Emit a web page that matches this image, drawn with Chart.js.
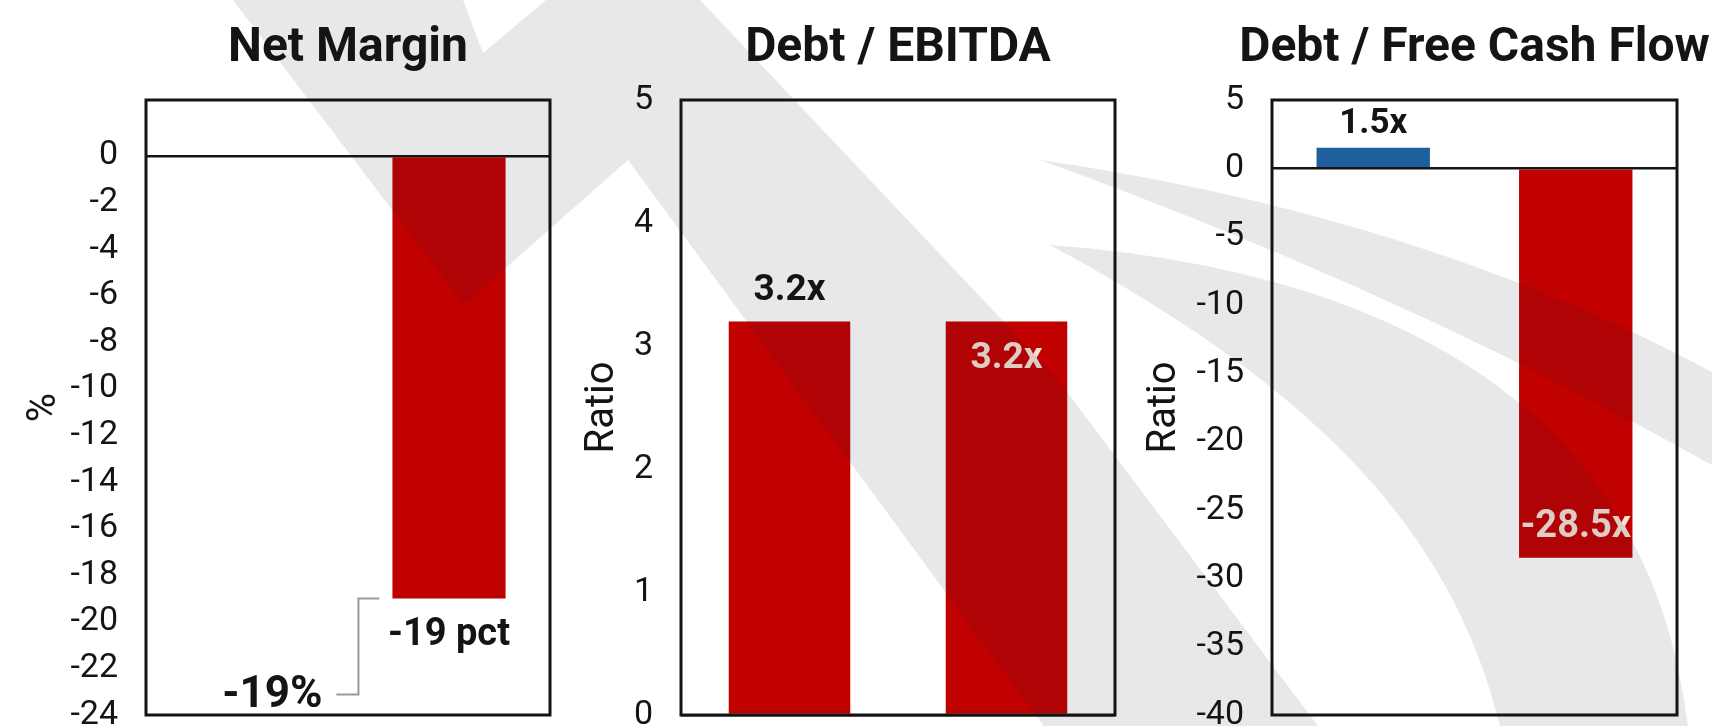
<!DOCTYPE html>
<html>
<head>
<meta charset="utf-8">
<title>Net Margin, Debt / EBITDA, Debt / Free Cash Flow</title>
<script src="https://cdn.jsdelivr.net/npm/chart.js@4.4.1/dist/chart.umd.min.js"></script>
<style>
  html, body { margin: 0; padding: 0; background: #fff; }
  #wrap { position: relative; width: 1712px; height: 726px; overflow: hidden; background: #fff; }
  #wrap canvas { position: absolute; top: 0; }
</style>
</head>
<body>
<div id="wrap">
  <canvas id="marginChart" width="560" height="726" style="left:0px"></canvas>
  <canvas id="ebitdaChart" width="570" height="726" style="left:560px"></canvas>
  <canvas id="fcfChart" width="582" height="726" style="left:1130px"></canvas>
</div>
<script>
// two periods per panel, the first margin bar is not reported
const periods = ['Prior', 'Latest'];

const marginValues = [null, -19];
const marginTicks = [0, -2, -4, -6, -8, -10, -12, -14, -16, -18, -20, -22, -24];

const ebitdaValues = [3.2, 3.2];
const ebitdaTicks = [0, 1, 2, 3, 4, 5];

const fcfValues = [1.5, -28.5];
const fcfTicks = [5, 0, -5, -10, -15, -20, -25, -30, -35, -40];

const INK = '#141414';
const RED = '#c10000';
const BLUE = '#1e5f9e';
const LIGHT = '#f7e1d6';
const FONT = 'Roboto, "Open Sans", sans-serif';

Chart.defaults.font.family = FONT;
Chart.defaults.color = INK;

const fmtX = v => `${v.toFixed(1)}x`;

// grey logo sitting over the whole figure, page coordinates
function traceWatermark(ctx) {
  ctx.beginPath();
  // slanted N
  ctx.moveTo(233, 0);
  ctx.lineTo(464, 305);
  ctx.lineTo(628, 160);
  ctx.lineTo(1044, 726);
  ctx.lineTo(1318, 726);
  ctx.lineTo(1055, 376);
  ctx.lineTo(700, 0);
  ctx.lineTo(546, 0);
  ctx.lineTo(483, 53);
  ctx.lineTo(463, 0);
  ctx.closePath();

  // thin swoosh
  ctx.moveTo(1040, 160);
  ctx.quadraticCurveTo(1420, 215, 1712, 372);
  ctx.lineTo(1712, 465);
  ctx.quadraticCurveTo(1400, 290, 1040, 160);
  ctx.closePath();

  // wide swoosh
  ctx.moveTo(1050, 245);
  ctx.bezierCurveTo(1380, 270, 1650, 400, 1688, 726);
  ctx.lineTo(1500, 726);
  ctx.bezierCurveTo(1450, 520, 1300, 380, 1050, 245);
  ctx.closePath();
}

const watermark = {
  id: 'watermark',
  afterDraw(chart) {
    const ctx = chart.ctx;
    ctx.save();
    ctx.translate(-chart.canvas.offsetLeft, 0);
    traceWatermark(ctx);
    ctx.fillStyle = 'rgba(20, 30, 45, 0.1)';
    ctx.fill();
    ctx.restore();
  }
};

const panelFrame = {
  id: 'panelFrame',
  afterDatasetsDraw(chart, args, opts) {
    const {ctx, chartArea: a} = chart;
    ctx.save();
    ctx.strokeStyle = INK;
    ctx.lineWidth = 3;
    ctx.strokeRect(a.left, a.top, a.right - a.left, a.bottom - a.top);
    ctx.fillStyle = INK;
    ctx.font = `bold 48px ${FONT}`;
    ctx.textAlign = 'center';
    ctx.textBaseline = 'alphabetic';
    ctx.fillText(opts.text, (a.left + a.right) / 2, 61);
    ctx.restore();
  }
};

// value labels next to or inside the bars
const barLabels = {
  id: 'barLabels',
  afterDatasetsDraw(chart, args, opts) {
    const ctx = chart.ctx;
    const bars = chart.getDatasetMeta(0).data;
    ctx.save();
    ctx.textAlign = 'center';
    ctx.textBaseline = 'middle';
    (opts.items || []).forEach(it => {
      const bar = bars[it.index];
      const up = bar.y < bar.base;
      let y;
      if (it.where === 'outside') y = up ? bar.y - it.offset : bar.y + it.offset;
      else y = up ? bar.y + it.offset : bar.y - it.offset;
      ctx.font = `bold ${it.size}px ${FONT}`;
      ctx.fillStyle = it.color;
      ctx.fillText(it.text, bar.x, y);
    });
    if (opts.callout) {
      const c = opts.callout;
      const bar = bars[c.index];
      const left = bar.x - bar.width / 2;
      const yEnd = bar.y;
      ctx.strokeStyle = '#9a9a9a';
      ctx.lineWidth = 2;
      ctx.beginPath();
      ctx.moveTo(left - 13, yEnd);
      ctx.lineTo(left - 34, yEnd);
      ctx.lineTo(left - 34, yEnd + 96);
      ctx.lineTo(left - 56, yEnd + 96);
      ctx.stroke();
      ctx.font = `bold 44px ${FONT}`;
      ctx.fillStyle = INK;
      ctx.fillText(c.text, left - 120, yEnd + 97);
    }
    ctx.restore();
  }
};

function makePanel(cfg) {
  const canvas = document.getElementById(cfg.canvas);
  return new Chart(canvas, {
    type: 'bar',
    data: {
      labels: periods,
      datasets: [{
        data: cfg.values,
        backgroundColor: cfg.colors,
        borderWidth: 0,
        barPercentage: 0.56,
        categoryPercentage: 1.0
      }]
    },
    options: {
      responsive: false,
      animation: false,
      layout: { padding: { left: 0, right: cfg.padRight, top: 100, bottom: 11 } },
      scales: {
        x: { display: false },
        y: {
          min: cfg.min,
          max: cfg.max,
          afterBuildTicks: scale => { scale.ticks = cfg.ticks.map(v => ({ value: v })); },
          afterFit: scale => {
            scale.width = cfg.axisWidth;
            scale.paddingTop = 0;
            scale.paddingBottom = 0;
          },
          border: { display: false },
          grid: {
            drawTicks: false,
            color: c => (c.tick && c.tick.value === 0) ? INK : 'rgba(0,0,0,0)',
            lineWidth: 2.5
          },
          ticks: {
            padding: 28,
            color: INK,
            font: { size: 34 },
            callback: v => String(v)
          },
          title: {
            display: true,
            text: cfg.axisTitle,
            color: INK,
            font: { size: 40 },
            padding: { top: cfg.titlePad, bottom: 0 }
          }
        }
      },
      plugins: {
        legend: { display: false },
        tooltip: { enabled: false },
        panelFrame: { text: cfg.title },
        barLabels: { items: cfg.labels, callout: cfg.callout }
      }
    },
    plugins: [panelFrame, barLabels, watermark]
  });
}

makePanel({
  canvas: 'marginChart',
  title: 'Net Margin',
  axisTitle: '%',
  titlePad: 21,
  axisWidth: 146,
  padRight: 10,
  min: -24,
  max: 2.4,
  ticks: marginTicks,
  values: marginValues,
  colors: [RED, RED],
  labels: [{ index: 1, text: `${marginValues[1]} pct`, where: 'outside', offset: 37, size: 38, color: INK }],
  callout: { index: 1, text: `${marginValues[1]}%` }
});

makePanel({
  canvas: 'ebitdaChart',
  title: 'Debt / EBITDA',
  axisTitle: 'Ratio',
  titlePad: 19,
  axisWidth: 121,
  padRight: 15,
  min: 0,
  max: 5,
  ticks: ebitdaTicks,
  values: ebitdaValues,
  colors: [RED, RED],
  labels: [
    { index: 0, text: fmtX(ebitdaValues[0]), where: 'outside', offset: 31, size: 37, color: INK },
    { index: 1, text: fmtX(ebitdaValues[1]), where: 'inside', offset: 37, size: 37, color: LIGHT }
  ]
});

makePanel({
  canvas: 'fcfChart',
  title: 'Debt / Free Cash Flow',
  axisTitle: 'Ratio',
  titlePad: 11,
  axisWidth: 142,
  padRight: 35,
  min: -40,
  max: 5,
  ticks: fcfTicks,
  values: fcfValues,
  colors: [BLUE, RED],
  labels: [
    { index: 0, text: fmtX(fcfValues[0]), where: 'outside', offset: 24, size: 35, color: INK },
    { index: 1, text: fmtX(fcfValues[1]), where: 'inside', offset: 30, size: 38, color: LIGHT }
  ]
});
</script>
</body>
</html>
